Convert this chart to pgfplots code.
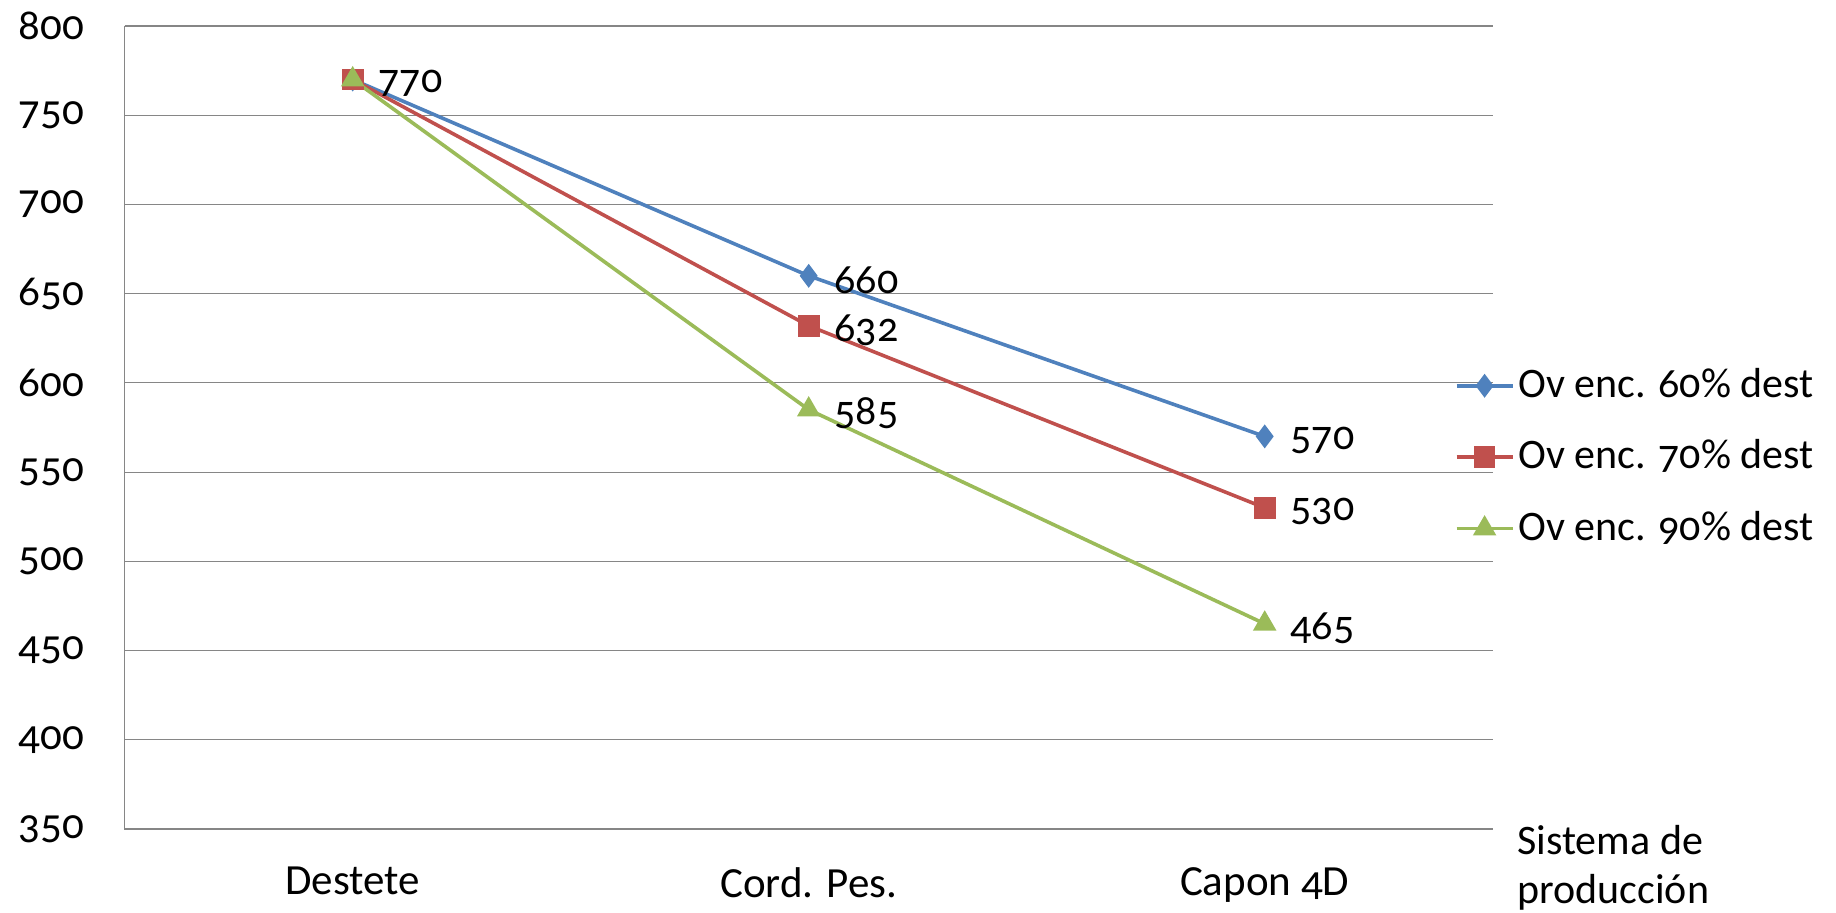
\documentclass[border=0pt]{standalone}
\usepackage{pgfplots}
\pgfplotsset{compat=1.18}
\usepackage{fontspec}
\setmainfont[Numbers=OldStyle]{Carlito}
\definecolor{sblue}{HTML}{4F81BD}
\definecolor{sred}{HTML}{C0504D}
\definecolor{sgreen}{HTML}{9BBB59}
\definecolor{grid}{HTML}{868686}
\begin{document}
\fontsize{21}{25}\selectfont
\begin{tikzpicture}
\useasboundingbox (-62.35pt,-41.5pt) rectangle (855.65pt,414.5pt);
\begin{axis}[
  scale only axis,
  width=684pt, height=401.5pt,
  at={(0,0)}, anchor=south west,
  xmin=-0.5, xmax=2.5,
  ymin=350, ymax=800,
  ytick={350,400,...,800},
  xtick={0,1,2},
  xticklabels={Destete, Cord. Pes., Capon 4D},
  axis lines*=left,
  axis line style={draw=none},
  major tick length=0pt,
  tick style={draw=none},
  /pgf/number format/assume math mode=true,
  ticklabel style={font=\fontsize{21.5}{25}\selectfont},
  yticklabel style={xshift=-13pt},
  xticklabel style={yshift=-12pt},
  legend style={at={(0.972,0.463)}, anchor=west, draw=none, fill=none,
    inner sep=0pt, font=\fontsize{21}{25}\selectfont,
    row sep=14pt, legend cell align=left,
    /tikz/every even column/.append style={column sep=0pt}},
  legend image code/.code={\draw[mark repeat=2,mark phase=2] plot coordinates {(0pt,0pt)(14pt,0pt)(28pt,0pt)};},
  every node near coord/.append style={anchor=west, text=black, font=\fontsize{21}{25}\selectfont, xshift=5pt, yshift=-2pt},
  nodes near coords,
  point meta=explicit symbolic,
  clip=false,
]
\pgfplotsinvokeforeach{400,450,500,550,600,650,700,750,800}{
  \draw[grid, line width=0.6pt] (axis cs:-0.5,#1) -- (axis cs:2.5,#1);
}
\draw[grid, line width=0.6pt] (rel axis cs:0,1) -- (rel axis cs:0,0) -- (rel axis cs:1,0);
\addplot[color=sblue, line width=1.8pt, mark=diamond*, mark size=4.5pt] coordinates {(0,770) [770] (1,660) [660] (2,570) [570]};
\addlegendentry{Ov enc. 60\% dest}
\addplot[color=sred, line width=1.8pt, mark=square*, mark size=4.5pt] coordinates {(0,770) [{}] (1,632) [632] (2,530) [530]};
\addlegendentry{Ov enc. 70\% dest}
\addplot[color=sgreen, line width=1.8pt, mark=triangle*, mark size=5pt] coordinates {(0,770) [{}] (1,585) [585] (2,465) [465]};
\addlegendentry{Ov enc. 90\% dest}
\node[anchor=north west, align=left, inner sep=0pt, font=\fontsize{21}{24.5}\selectfont] at (rel axis cs:1.0178,0.005) {Sistema de\\producción};
\end{axis}
\end{tikzpicture}
\end{document}
